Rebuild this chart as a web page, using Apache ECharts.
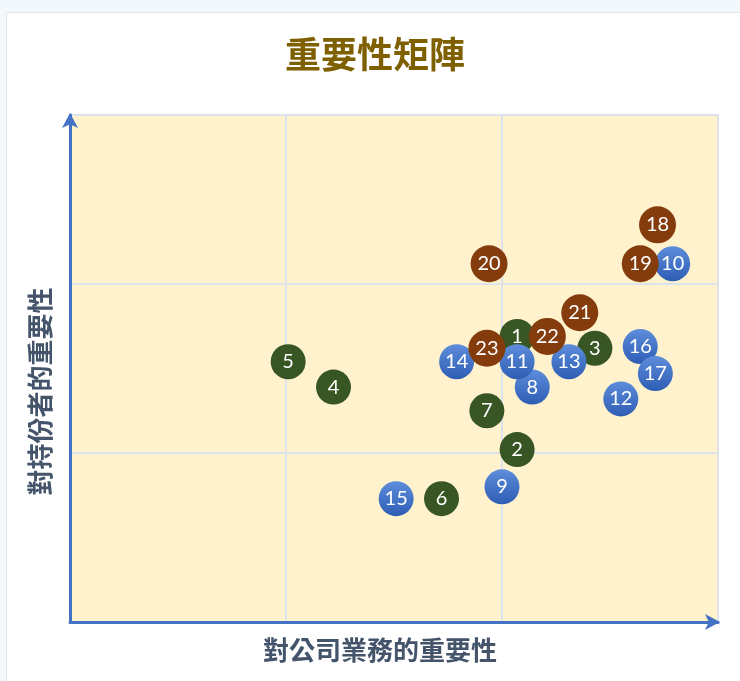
<!DOCTYPE html>
<html>
<head>
<meta charset="utf-8">
<title>重要性矩陣</title>
<script src="https://cdn.jsdelivr.net/npm/echarts@6/dist/echarts.min.js"></script>
<style>
  html, body { margin: 0; padding: 0; background: #f2f8fb; }
  #card { position: absolute; left: 6px; top: 12px; width: 740px; height: 680px; background: #fff; border: 1px solid #dfe5ea; box-sizing: border-box; }
  #chart { position: absolute; left: 0; top: 0; width: 740px; height: 681px; }
</style>
</head>
<body>
<div id="card"></div>
<div id="chart"></div>
<script>
// each point: [對公司業務的重要性, 對持份者的重要性, 議題編號]
const greenPoints = [
  [2.07, 1.69, 1], [2.07, 1.02, 2], [2.43, 1.62, 3], [1.22, 1.39, 4],
  [1.01, 1.54, 5], [1.72, 0.73, 6], [1.93, 1.25, 7]
];
const bluePoints = [
  [2.14, 1.39, 8], [2.00, 0.80, 9], [2.79, 2.12, 10], [2.07, 1.54, 11],
  [2.55, 1.32, 12], [2.31, 1.54, 13], [1.79, 1.54, 14], [1.51, 0.73, 15],
  [2.64, 1.63, 16], [2.71, 1.47, 17]
];
const brownPoints = [
  [2.72, 2.35, 18], [2.64, 2.12, 19], [1.94, 2.12, 20], [2.36, 1.83, 21],
  [2.21, 1.69, 22], [1.93, 1.62, 23]
];

const titleText = '重要性矩陣';
const xName = '對公司業務的重要性';
const yName = '對持份者的重要性';

const cjk = '"Noto Sans CJK TC", "Noto Sans CJK SC", sans-serif';
const axisBlue = '#4472c4';

function bubbles(name, data, color, size) {
  return {
    name: name,
    type: 'scatter',
    data: data,
    symbolSize: size,
    itemStyle: { color: color, opacity: 1 },
    label: {
      show: true,
      position: 'inside',
      formatter: p => p.value[2],
      color: '#fff',
      fontSize: 20,
      fontFamily: 'Lato, "Open Sans", sans-serif'
    },
    emphasis: { disabled: true }
  };
}

function axis(name, gap, padding) {
  return {
    type: 'value',
    min: 0,
    max: 3,
    interval: 1,
    name: name,
    nameLocation: 'middle',
    nameGap: gap,
    nameTextStyle: { color: '#44546a', fontSize: 26, fontWeight: 'bold', fontFamily: cjk, padding: padding },
    axisLine: {
      show: true,
      symbol: ['none', 'arrow'],
      symbolSize: [12, 15],
      symbolOffset: [0, 2],
      lineStyle: { color: axisBlue, width: 3 }
    },
    axisTick: { show: false },
    axisLabel: { show: false },
    splitLine: { show: true, lineStyle: { color: '#dde3ec', width: 2 } }
  };
}

const chart = echarts.init(document.getElementById('chart'));

const blueFill = new echarts.graphic.LinearGradient(0, 0, 0, 1, [
  { offset: 0, color: '#5d8dda' },
  { offset: 1, color: '#2e5db5' }
]);

chart.setOption({
  animation: false,
  title: {
    text: titleText,
    left: 280,
    top: 31,
    textStyle: { color: '#7f6000', fontSize: 36, fontWeight: 'bold', fontFamily: cjk }
  },
  grid: {
    left: 70,
    right: 22,
    top: 115,
    bottom: 59,
    show: true,
    backgroundColor: '#fff2cc',
    borderColor: '#dde3ec',
    borderWidth: 2
  },
  xAxis: axis(xName, 15, [0, 28, 0, 0]),
  yAxis: axis(yName, 17, [0, 46, 0, 0]),
  series: [
    bubbles('綠', greenPoints, '#375623', 35),
    bubbles('藍', bluePoints, blueFill, 35),
    bubbles('啡', brownPoints, '#843c0c', 37)
  ]
});
</script>
</body>
</html>
